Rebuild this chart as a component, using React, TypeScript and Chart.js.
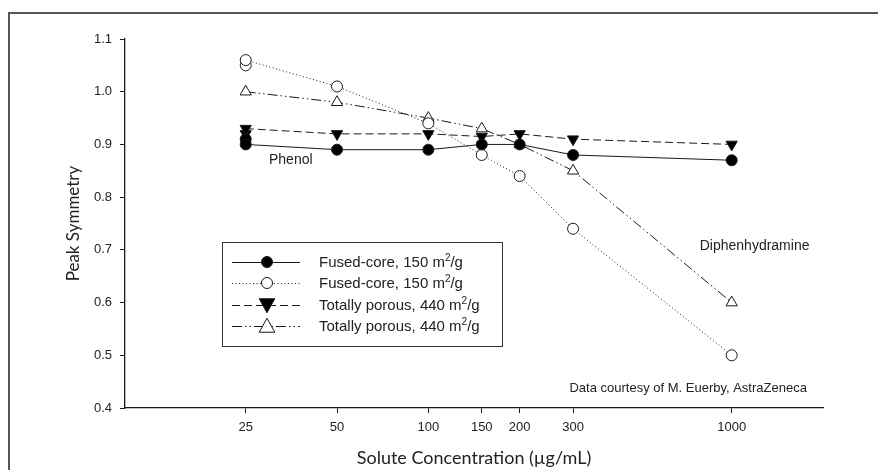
import React, { useEffect, useRef } from "react";
import { Chart, registerables } from "chart.js";

Chart.register(...registerables);

const concentrations = [25, 50, 100, 150, 200, 300, 1000];
const xTickValues = [25, 50, 100, 150, 200, 300, 1000];
const phenolFused = [0.9, 0.89, 0.89, 0.9, 0.9, 0.88, 0.87];
const diphenFused = [1.06, 1.01, 0.94, 0.88, 0.84, 0.74, 0.5];
const phenolPorous = [0.93, 0.92, 0.92, 0.915, 0.92, 0.91, 0.9];
const diphenPorous = [1.0, 0.98, 0.95, 0.93, 0.9, 0.85, 0.6];
const replicateFilledCircle = [0.91];
const replicateFilledTriangle = [0.92];
const replicateOpenCircle = [1.05];
const replicateX = [25];
const seriesLabels = [
  "Fused-core, 150 m",
  "Fused-core, 150 m",
  "Totally porous, 440 m",
  "Totally porous, 440 m",
];

const INK = "#1a1a1a";
const TICK_FONT = "'Liberation Sans Narrow', 'Liberation Sans', Arial, sans-serif";
const TEXT_FONT = "'Liberation Sans', Arial, sans-serif";

function pts(xs: number[], ys: number[]) {
  return xs.map((x, i) => ({ x, y: ys[i] }));
}

const frameAndAnnotations = {
  id: "frameAndAnnotations",
  beforeDraw(chart: any) {
    const ctx = chart.ctx;
    ctx.save();
    ctx.strokeStyle = "#555";
    ctx.lineWidth = 2;
    ctx.beginPath();
    ctx.moveTo(9, 480);
    ctx.lineTo(9, 13);
    ctx.lineTo(890, 13);
    ctx.stroke();
    ctx.restore();
  },
  afterDraw(chart: any) {
    const ctx = chart.ctx;
    const xs = chart.scales.x;
    const ys = chart.scales.y;
    ctx.save();
    ctx.fillStyle = "#222";
    ctx.textBaseline = "middle";
    ctx.font = `14px ${TEXT_FONT}`;
    ctx.textAlign = "center";
    ctx.fillText("Phenol", xs.getPixelForValue(35.2), ys.getPixelForValue(0.870));
    ctx.fillText("Diphenhydramine", xs.getPixelForValue(1190), ys.getPixelForValue(0.707));
    ctx.textAlign = "right";
    ctx.font = `13px ${TICK_FONT}`;
    ctx.fillText(
      "Data courtesy of M. Euerby, AstraZeneca",
      xs.getPixelForValue(1770),
      ys.getPixelForValue(0.437)
    );

    // legend box
    const bx = 222, by = 242, bw = 280, bh = 104;
    ctx.strokeStyle = "#333";
    ctx.lineWidth = 1;
    ctx.strokeRect(bx + 0.5, by + 0.5, bw, bh);
    const rows = [262, 283, 305, 326];
    chart.data.datasets.slice(0, 4).forEach((ds: any, i: number) => {
      const y = rows[i];
      ctx.save();
      ctx.strokeStyle = ds.borderColor;
      ctx.lineWidth = ds.borderWidth;
      ctx.setLineDash(ds.borderDash || []);
      ctx.beginPath();
      ctx.moveTo(232, y + 0.5);
      ctx.lineTo(300, y + 0.5);
      ctx.stroke();
      ctx.setLineDash([]);
      ctx.restore();
      // marker
      ctx.save();
      ctx.fillStyle = ds.pointBackgroundColor;
      ctx.strokeStyle = ds.pointBorderColor;
      ctx.lineWidth = 1;
      const r = ds.pointRadius;
      ctx.beginPath();
      if (ds.pointStyle === "circle") {
        ctx.arc(267, y, r, 0, Math.PI * 2);
      } else {
        const rot = ds.pointRotation || 0;
        const s = r * 1.2;
        if (rot === 180) {
          ctx.moveTo(267 - s, y - s * 0.8);
          ctx.lineTo(267 + s, y - s * 0.8);
          ctx.lineTo(267, y + s);
        } else {
          ctx.moveTo(267 - s, y + s * 0.8);
          ctx.lineTo(267 + s, y + s * 0.8);
          ctx.lineTo(267, y - s);
        }
        ctx.closePath();
      }
      ctx.fill();
      ctx.stroke();
      ctx.restore();
      // text
      ctx.fillStyle = "#222";
      ctx.textAlign = "left";
      ctx.font = `15px ${TEXT_FONT}`;
      const base = seriesLabels[i];
      ctx.fillText(base, 319, y + 1);
      const w = ctx.measureText(base).width;
      ctx.font = `10px ${TEXT_FONT}`;
      ctx.fillText("2", 319 + w, y - 4);
      const w2 = ctx.measureText("2").width;
      ctx.font = `15px ${TEXT_FONT}`;
      ctx.fillText("/g", 319 + w + w2, y + 1);
    });
    ctx.restore();
  },
};

export default function App() {
  const ref = useRef<HTMLCanvasElement | null>(null);

  useEffect(() => {
    const canvas = ref.current;
    if (!canvas) return;
    const common = {
      borderColor: INK,
      borderWidth: 1,
      pointBorderColor: INK,
      pointBorderWidth: 1,
      showLine: true,
      tension: 0,
    };
    const chart = new Chart(canvas, {
      type: "scatter",
      data: {
        datasets: [
          {
            ...common,
            label: "Fused-core, 150 m²/g (Phenol)",
            data: pts(concentrations, phenolFused),
            pointStyle: "circle",
            pointRadius: 5.5,
            pointBackgroundColor: "#000",
          },
          {
            ...common,
            label: "Fused-core, 150 m²/g (Diphenhydramine)",
            data: pts(concentrations, diphenFused),
            borderDash: [1, 2.5],
            pointStyle: "circle",
            pointRadius: 5.5,
            pointBackgroundColor: "#fff",
          },
          {
            ...common,
            label: "Totally porous, 440 m²/g (Phenol)",
            data: pts(concentrations, phenolPorous),
            borderDash: [8, 4],
            pointStyle: "triangle",
            pointRotation: 180,
            pointRadius: 6.5,
            pointBackgroundColor: "#000",
          },
          {
            ...common,
            label: "Totally porous, 440 m²/g (Diphenhydramine)",
            data: pts(concentrations, diphenPorous),
            borderDash: [10, 3, 1.5, 3, 1.5, 3],
            pointStyle: "triangle",
            pointRadius: 6.5,
            pointBackgroundColor: "#fff",
          },
          {
            ...common,
            showLine: false,
            label: "rep1",
            data: pts(replicateX, replicateFilledCircle),
            pointStyle: "circle",
            pointRadius: 5.5,
            pointBackgroundColor: "#000",
          },
          {
            ...common,
            showLine: false,
            label: "rep2",
            data: pts(replicateX, replicateFilledTriangle),
            pointStyle: "triangle",
            pointRotation: 180,
            pointRadius: 6.5,
            pointBackgroundColor: "#000",
          },
          {
            ...common,
            showLine: false,
            label: "rep3",
            data: pts(replicateX, replicateOpenCircle),
            pointStyle: "circle",
            pointRadius: 5.5,
            pointBackgroundColor: "#fff",
          },
        ],
      },
      options: {
        animation: false,
        responsive: false,
        maintainAspectRatio: false,
        layout: { padding: { left: 0, top: 39, right: 55, bottom: 0 } },
        plugins: {
          legend: { display: false },
          tooltip: { enabled: false },
          title: { display: false },
        },
        scales: {
          x: {
            type: "logarithmic",
            min: 10,
            max: 2000,
            afterFit: (s: any) => {
              s.height = 62;
            },
            afterBuildTicks: (s: any) => {
              s.ticks = xTickValues.map((v) => ({ value: v }));
            },
            grid: {
              display: true,
              drawOnChartArea: false,
              drawTicks: true,
              tickLength: 5,
              color: INK,
            },
            border: { display: true, color: INK, width: 1.3 },
            ticks: {
              color: "#222",
              font: { family: TICK_FONT, size: 13 },
              padding: 7,
              autoSkip: false,
              maxRotation: 0,
              callback: (v: any) => String(v),
            },
            title: {
              display: true,
              text: "Solute Concentration (µg/mL)",
              color: "#222",
              font: { family: "Lato, 'Open Sans', sans-serif", size: 18 },
              padding: { top: 0, bottom: 1 },
            },
          },
          y: {
            type: "linear",
            min: 0.4,
            max: 1.1,
            afterFit: (s: any) => {
              s.width = 125;
            },
            grid: {
              display: true,
              drawOnChartArea: false,
              drawTicks: true,
              tickLength: 5,
              color: INK,
            },
            border: { display: true, color: INK, width: 1.3 },
            ticks: {
              stepSize: 0.1,
              color: "#222",
              font: { family: TICK_FONT, size: 13 },
              padding: 8,
              callback: (v: any) => Number(v).toFixed(1),
            },
            title: {
              display: true,
              text: "Peak Symmetry",
              color: "#222",
              font: { family: "Lato, 'Open Sans', sans-serif", size: 17 },
              padding: { top: 63, bottom: 0 },
            },
          },
        },
      },
      plugins: [frameAndAnnotations],
    } as any);
    return () => chart.destroy();
  }, []);

  return (
    <div style={{ position: "absolute", left: 0, top: 0, width: 878, height: 470, background: "#fff" }}>
      <canvas ref={ref} width={878} height={470} style={{ display: "block", width: 878, height: 470 }} />
    </div>
  );
}
